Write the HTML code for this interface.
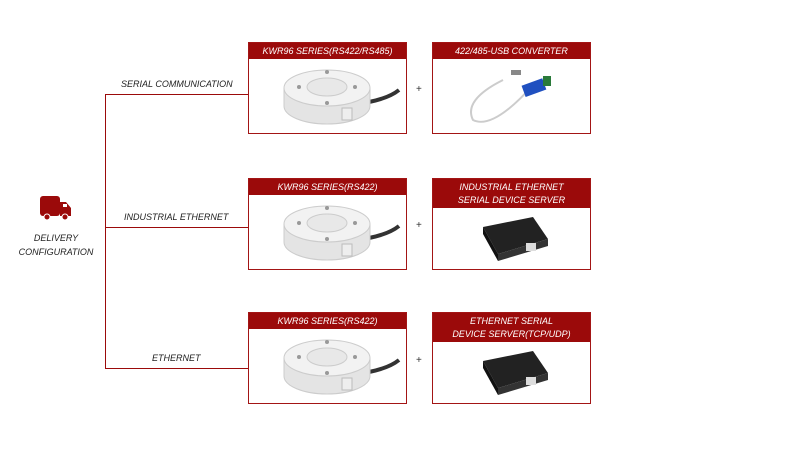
<!DOCTYPE html>
<html><head><style>
body{margin:0;width:800px;height:450px;background:#fff;position:relative;overflow:hidden;font-family:"Liberation Sans",sans-serif;}
.box{position:absolute;width:157px;height:90px;border:1px solid #a31515;background:#fff;}
.hd{background:#9b0a0a;color:#fff;font-size:9px;font-style:italic;text-align:center;line-height:13px;padding:2px 0 1px;}
.ln{position:absolute;background:#9b0a0a;}
.lb{position:absolute;font-size:9px;font-style:italic;color:#222;}
.plus{position:absolute;font-size:10px;color:#333;}
svg{position:absolute;left:0;}
</style></head><body>
<div class="ln" style="left:105px;top:94px;width:1px;height:274px"></div>
<div class="ln" style="left:105px;top:94px;width:143px;height:1px"></div>
<div class="ln" style="left:105px;top:227px;width:143px;height:1px"></div>
<div class="ln" style="left:105px;top:368px;width:143px;height:1px"></div>
<div class="lb" style="left:121px;top:79px">SERIAL COMMUNICATION</div>
<div class="lb" style="left:124px;top:212px">INDUSTRIAL ETHERNET</div>
<div class="lb" style="left:152px;top:353px">ETHERNET</div>
<svg style="left:39px;top:196px" width="34" height="26"><rect x="1" y="0" width="20" height="20" rx="3" fill="#9b0a0a"/><path d="M21 6h6l5 6v8h-11z" fill="#9b0a0a"/><rect x="24" y="8" width="4" height="3" fill="#fff"/><circle cx="8" cy="21" r="3" fill="#9b0a0a" stroke="#fff"/><circle cx="26" cy="21" r="3" fill="#9b0a0a" stroke="#fff"/></svg>
<div class="lb" style="left:18px;top:231px;text-align:center;width:76px;line-height:14px">DELIVERY<br>CONFIGURATION</div>

<!-- row1 -->
<div class="box" style="left:248px;top:42px"><div class="hd">KWR96 SERIES(RS422/RS485)</div>
<svg width="157" height="72" style="top:17px"><path d="M120 42 Q140 38 150 30" stroke="#333" stroke-width="4" fill="none"/><path d="M35 28v18a43 18 0 0 0 86 0v-18" fill="#e4e4e4" stroke="#ccc"/><ellipse cx="78" cy="28" rx="43" ry="18" fill="#f2f2f2" stroke="#ccc"/><ellipse cx="78" cy="27" rx="20" ry="9" fill="#e8e8e8" stroke="#ccc"/><circle cx="50" cy="27" r="2" fill="#999"/><circle cx="106" cy="27" r="2" fill="#999"/><circle cx="78" cy="12" r="2" fill="#999"/><circle cx="78" cy="43" r="2" fill="#999"/><rect x="93" y="48" width="10" height="12" fill="#eee" stroke="#bbb"/></svg></div>
<div class="plus" style="left:416px;top:84px">+</div>
<div class="box" style="left:432px;top:42px"><div class="hd">422/485-USB CONVERTER</div>
<svg width="157" height="72" style="top:17px"><path d="M70 20 Q30 40 40 60 Q60 70 100 25" stroke="#ccc" stroke-width="2" fill="none"/><rect x="78" y="10" width="10" height="5" fill="#888"/><rect x="90" y="22" width="22" height="12" fill="#2050c0" transform="rotate(-20 100 28)"/><rect x="110" y="16" width="8" height="10" fill="#2a7a3a"/></svg></div>

<!-- row2 -->
<div class="box" style="left:248px;top:178px"><div class="hd">KWR96 SERIES(RS422)</div>
<svg width="157" height="72" style="top:17px"><path d="M120 42 Q140 38 150 30" stroke="#333" stroke-width="4" fill="none"/><path d="M35 28v18a43 18 0 0 0 86 0v-18" fill="#e4e4e4" stroke="#ccc"/><ellipse cx="78" cy="28" rx="43" ry="18" fill="#f2f2f2" stroke="#ccc"/><ellipse cx="78" cy="27" rx="20" ry="9" fill="#e8e8e8" stroke="#ccc"/><circle cx="50" cy="27" r="2" fill="#999"/><circle cx="106" cy="27" r="2" fill="#999"/><circle cx="78" cy="12" r="2" fill="#999"/><circle cx="78" cy="43" r="2" fill="#999"/><rect x="93" y="48" width="10" height="12" fill="#eee" stroke="#bbb"/></svg></div>
<div class="plus" style="left:416px;top:220px">+</div>
<div class="box" style="left:432px;top:178px"><div class="hd">INDUSTRIAL ETHERNET<br>SERIAL DEVICE SERVER</div>
<svg width="157" height="60" style="top:30px"><path d="M50 18 L100 8 L115 30 L65 45 Z" fill="#222"/><path d="M50 18 L65 45 L65 52 L50 25 Z" fill="#111"/><path d="M65 45 L115 30 L115 37 L65 52Z" fill="#333"/><rect x="93" y="34" width="10" height="8" fill="#ddd"/></svg></div>

<!-- row3 -->
<div class="box" style="left:248px;top:312px"><div class="hd">KWR96 SERIES(RS422)</div>
<svg width="157" height="72" style="top:17px"><path d="M120 42 Q140 38 150 30" stroke="#333" stroke-width="4" fill="none"/><path d="M35 28v18a43 18 0 0 0 86 0v-18" fill="#e4e4e4" stroke="#ccc"/><ellipse cx="78" cy="28" rx="43" ry="18" fill="#f2f2f2" stroke="#ccc"/><ellipse cx="78" cy="27" rx="20" ry="9" fill="#e8e8e8" stroke="#ccc"/><circle cx="50" cy="27" r="2" fill="#999"/><circle cx="106" cy="27" r="2" fill="#999"/><circle cx="78" cy="12" r="2" fill="#999"/><circle cx="78" cy="43" r="2" fill="#999"/><rect x="93" y="48" width="10" height="12" fill="#eee" stroke="#bbb"/></svg></div>
<div class="plus" style="left:416px;top:355px">+</div>
<div class="box" style="left:432px;top:312px"><div class="hd">ETHERNET SERIAL<br>DEVICE SERVER(TCP/UDP)</div>
<svg width="157" height="60" style="top:30px"><path d="M50 18 L100 8 L115 30 L65 45 Z" fill="#222"/><path d="M50 18 L65 45 L65 52 L50 25 Z" fill="#111"/><path d="M65 45 L115 30 L115 37 L65 52Z" fill="#333"/><rect x="93" y="34" width="10" height="8" fill="#ddd"/></svg></div>
</body></html>
